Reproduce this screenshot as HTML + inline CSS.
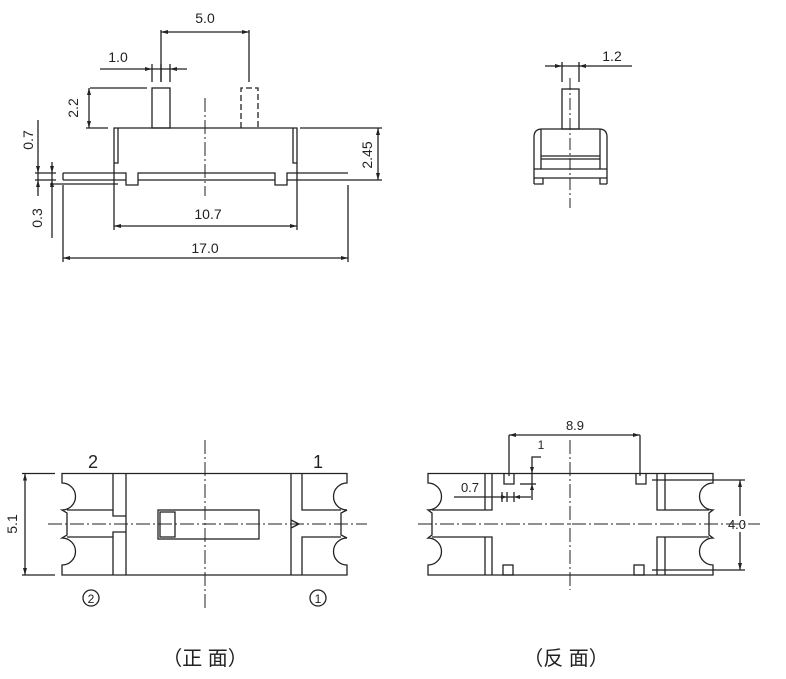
<!DOCTYPE html>
<html><head><meta charset="utf-8"><style>
html,body{margin:0;padding:0;background:#fff;width:786px;height:679px;overflow:hidden}
svg{display:block}
text{font-family:"Liberation Sans",sans-serif;fill:#222}
</style></head><body>
<svg width="786" height="679" viewBox="0 0 786 679" xmlns="http://www.w3.org/2000/svg">
<g stroke="#222" stroke-width="1.3" fill="none">
<line x1="161" y1="32" x2="249" y2="32"/>
<line x1="161" y1="30" x2="161" y2="82"/>
<line x1="249" y1="30" x2="249" y2="82"/>
<line x1="100" y1="69" x2="187" y2="69"/>
<line x1="152" y1="64" x2="152" y2="82"/>
<line x1="161" y1="64" x2="161" y2="82"/>
<line x1="170" y1="64" x2="170" y2="82"/>
<rect x="152" y="88" width="18" height="40" fill="#fff"/>
<path d="M241,128 V88 H258 V128" stroke-dasharray="6,3"/>
<line x1="90" y1="88" x2="147" y2="88"/>
<line x1="86" y1="128" x2="108" y2="128"/>
<line x1="89" y1="88" x2="89" y2="128"/>
<path d="M114,172 V128 H297 V172"/>
<path d="M118,128 V163 H114"/>
<path d="M293,128 V163 H297"/>
<path d="M63,173 H126 V185 H138 V173 H275 V185 H287 V173 H348"/>
<path d="M63,180 H126 M138,180 H275 M287,180 H348"/>
<line x1="63" y1="173" x2="63" y2="180"/>
<line x1="205" y1="98" x2="205" y2="196" stroke-dasharray="14,3,2,3" stroke-width="1"/>
<line x1="300" y1="128" x2="382" y2="128"/>
<line x1="378" y1="128" x2="378" y2="180"/>
<line x1="348" y1="180" x2="382" y2="180"/>
<line x1="38" y1="120" x2="38" y2="196"/>
<line x1="52" y1="162" x2="52" y2="238"/>
<line x1="35" y1="173" x2="56" y2="173"/>
<line x1="35" y1="180" x2="56" y2="180"/>
<line x1="50" y1="184" x2="118" y2="184"/>
<line x1="114" y1="172" x2="114" y2="230"/>
<line x1="297" y1="172" x2="297" y2="230"/>
<line x1="114" y1="226" x2="297" y2="226"/>
<line x1="63" y1="185" x2="63" y2="262"/>
<line x1="348" y1="185" x2="348" y2="262"/>
<line x1="63" y1="258" x2="348" y2="258"/>

<line x1="545" y1="66" x2="632" y2="66"/>
<line x1="562" y1="62" x2="562" y2="82"/>
<line x1="579" y1="62" x2="579" y2="82"/>
<rect x="562" y="89" width="17" height="40"/>
<path d="M534,184 V137 Q534,129 542,129 H599 Q607,129 607,137 V184"/>
<line x1="541" y1="129" x2="541" y2="169"/>
<line x1="600" y1="129" x2="600" y2="169"/>
<line x1="541" y1="156" x2="600" y2="156"/>
<line x1="541" y1="159" x2="600" y2="159"/>
<line x1="534" y1="169" x2="607" y2="169"/>
<line x1="534" y1="178" x2="607" y2="178"/>
<path d="M534,184 H543 V178 M607,184 H600 V178"/>
<line x1="570" y1="78" x2="570" y2="208" stroke-dasharray="12,3,2,3" stroke-width="1"/>

<path d="M62,473.5 H347 V483 A13.5,13.5 0 0 0 347,510 L341,513 V535 L347,538 A13.5,13.5 0 0 0 347,565 V575 H62 V565 A13.5,13.5 0 0 0 62,538 L67,535 V513 L62,510 A13.5,13.5 0 0 0 62,483 Z"/>
<path d="M67,510 H113 V473.5 M113,575 V537 H67 M113,510 V516 H126 M113,537 V532 H126"/>
<line x1="126" y1="473.5" x2="126" y2="575"/>
<line x1="291" y1="473.5" x2="291" y2="575"/>
<path d="M341,510 H302 V473.5 M302,575 V537 H341"/>
<rect x="158" y="510" width="101" height="29"/>
<rect x="160" y="512" width="15" height="25"/>
<path d="M291,520 L299,524 L291,528"/>
<line x1="48" y1="524" x2="367" y2="524" stroke-dasharray="14,3,2,3" stroke-width="1"/>
<line x1="205" y1="440" x2="205" y2="608" stroke-dasharray="14,3,2,3" stroke-width="1"/>
<line x1="22" y1="473.5" x2="55" y2="473.5"/>
<line x1="22" y1="575" x2="55" y2="575"/>
<line x1="25" y1="473.5" x2="25" y2="575"/>
<circle cx="91" cy="598" r="8"/>
<circle cx="318" cy="598" r="8"/>

<path d="M428,473.5 H713 V483 A13.5,13.5 0 0 0 713,510 L709,513 V535 L713,538 A13.5,13.5 0 0 0 713,565 V575 H428 V565 A13.5,13.5 0 0 0 428,538 L432,535 V513 L428,510 A13.5,13.5 0 0 0 428,483 Z"/>
<path d="M432,510 H492 V473.5 M485,473.5 V510 M432,537 H492 V575 M485,537 V575"/>
<path d="M709,510 H657 V473.5 M665,473.5 V510 M709,537 H657 V575 M665,537 V575"/>
<path d="M504,473.5 V484 H514 V473.5"/>
<path d="M636,473.5 V484 H646 V473.5"/>
<rect x="503" y="565" width="10" height="10"/>
<rect x="634" y="565" width="10" height="10"/>
<line x1="509" y1="435" x2="640" y2="435"/>
<line x1="509" y1="435" x2="509" y2="476"/>
<line x1="640" y1="435" x2="640" y2="476"/>
<path d="M541,457 H532 V500"/>
<line x1="520" y1="484" x2="536" y2="484"/>
<line x1="454" y1="497" x2="531" y2="497"/>
<line x1="502" y1="492" x2="502" y2="502"/>
<line x1="507" y1="492" x2="507" y2="502"/>
<line x1="514" y1="492" x2="514" y2="502"/>
<line x1="652" y1="480" x2="745" y2="480"/>
<line x1="652" y1="570" x2="745" y2="570"/>
<line x1="740" y1="480" x2="740" y2="516"/>
<line x1="740" y1="532" x2="740" y2="570"/>
<line x1="418" y1="524" x2="760" y2="524" stroke-dasharray="14,3,2,3" stroke-width="1"/>
<line x1="570" y1="440" x2="570" y2="590" stroke-dasharray="14,3,2,3" stroke-width="1"/>
</g>
<g fill="#222">
<path d="M161,32 l7,-2 v4z M249,32 l-7,-2 v4z"/>
<path d="M152,69 l-7,-2 v4z M170,69 l7,-2 v4z"/>
<path d="M89,88 l-2,7 h4z M89,128 l-2,-7 h4z"/>
<path d="M378,128 l-2,7 h4z M378,180 l-2,-7 h4z"/>
<path d="M38,173 l-2,-7 h4z M52,180 l-2,7 h4z M38,180 l-2,7 h4z M52,173 l-2,-7 h4z"/>
<path d="M114,226 l7,-2 v4z M297,226 l-7,-2 v4z"/>
<path d="M63,258 l7,-2 v4z M348,258 l-7,-2 v4z"/>
<path d="M562,66 l-7,-2 v4z M579,66 l7,-2 v4z"/>
<path d="M25,473.5 l-2,7 h4z M25,575 l-2,-7 h4z"/>
<path d="M509,435 l7,-2 v4z M640,435 l-7,-2 v4z"/>
<path d="M532,473 l-2,-6 h4z M532,484 l-2,6 h4z"/>
<path d="M507,497 l-6,-2 v4z M514,497 l6,-2 v4z"/>
<path d="M740,480 l-2,7 h4z M740,570 l-2,-7 h4z"/>
</g>
<g font-size="14">
<text x="205" y="23" text-anchor="middle">5.0</text>
<text x="118" y="62" text-anchor="middle">1.0</text>
<text x="612" y="61" text-anchor="middle">1.2</text>
<text x="208" y="219" text-anchor="middle">10.7</text>
<text x="205" y="253" text-anchor="middle">17.0</text>
<text transform="translate(78,108) rotate(-90)" text-anchor="middle">2.2</text>
<text transform="translate(372,155) rotate(-90)" text-anchor="middle">2.45</text>
<text transform="translate(33,140) rotate(-90)" text-anchor="middle">0.7</text>
<text transform="translate(42,218) rotate(-90)" text-anchor="middle">0.3</text>
<text transform="translate(17,524) rotate(-90)" text-anchor="middle">5.1</text>
<text x="93" y="468" text-anchor="middle" font-size="18">2</text>
<text x="318" y="468" text-anchor="middle" font-size="18">1</text>
<text x="91" y="603" text-anchor="middle" font-size="12">2</text>
<text x="318" y="603" text-anchor="middle" font-size="12">1</text>
<text x="575" y="430" text-anchor="middle" font-size="13">8.9</text>
<text x="541" y="449" text-anchor="middle" font-size="12">1</text>
<text x="470" y="492" text-anchor="middle" font-size="13">0.7</text>
<text x="737" y="529" text-anchor="middle" font-size="13">4.0</text>
</g>
<g font-size="20" style="font-family:'Noto Serif CJK SC',serif">
<text x="205" y="665" text-anchor="middle">（正 面）</text>
<text x="566" y="665" text-anchor="middle">（反 面）</text>
</g>
</svg>
</body></html>
